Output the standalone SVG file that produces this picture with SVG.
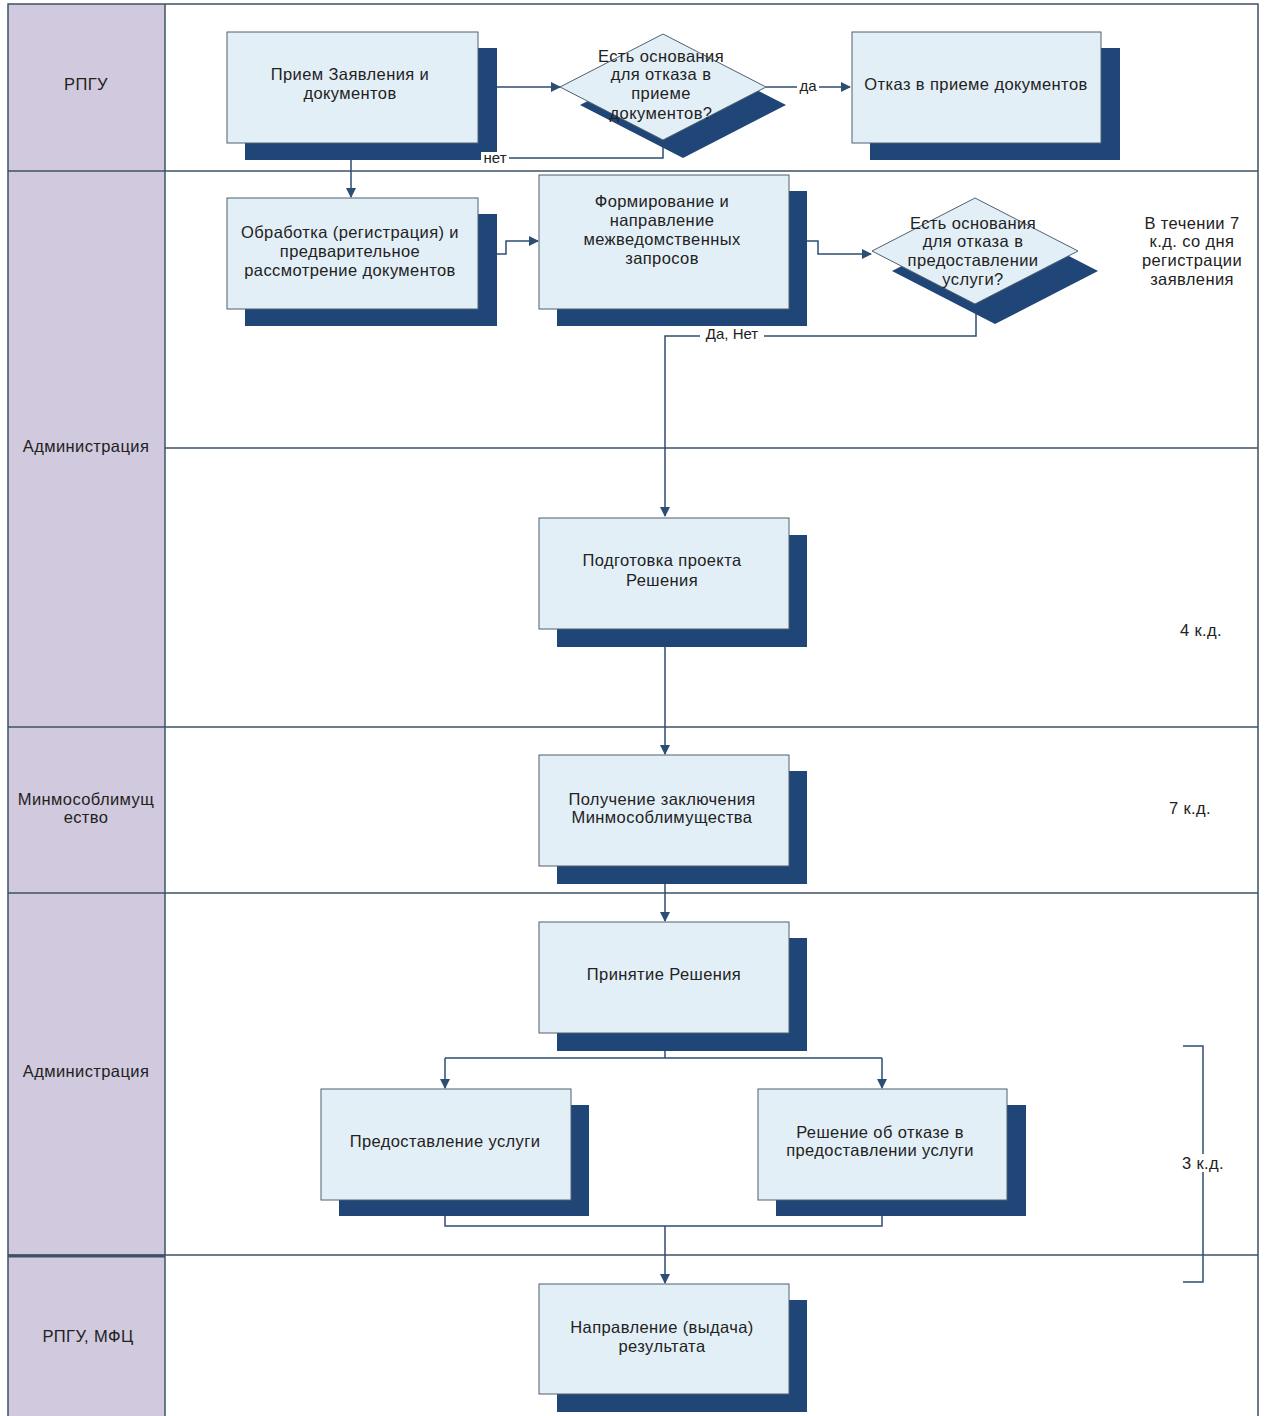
<svg xmlns="http://www.w3.org/2000/svg" width="1265" height="1416" viewBox="0 0 1265 1416">
<defs>
<style>
.lanehdr{fill:#d1c9dd;stroke:none}
.border{stroke:#3d5266;stroke-width:1.5;fill:none}
.front{fill:#e3eff7;stroke:#4f6070;stroke-width:1}
.shadow{fill:#1f4677;stroke:none}
.conn{stroke:#2d4d72;stroke-width:1.5;fill:none}
.t{font-family:"Liberation Sans",Arial,sans-serif;font-size:16.5px;letter-spacing:0.4px;fill:#222;text-anchor:middle}
.lbl{font-family:"Liberation Sans",Arial,sans-serif;font-size:15px;fill:#222;text-anchor:middle}
</style>
<marker id="arr" markerWidth="10" markerHeight="10" refX="9" refY="5" orient="auto" markerUnits="userSpaceOnUse">
<path d="M0,0 L10,5 L0,10 z" fill="#2d4d72"/>
</marker>
</defs>
<rect x="0" y="0" width="1265" height="1416" fill="#ffffff"/>
<g id="lanes">
<rect class="lanehdr" x="8" y="4" width="157" height="1412"/>
<rect class="border" x="8" y="4" width="1250" height="1420"/>
<line class="border" x1="165" y1="4" x2="165" y2="1416"/>
<line class="border" x1="8" y1="171" x2="1258" y2="171"/>
<line class="border" x1="165" y1="448" x2="1258" y2="448"/>
<line class="border" x1="8" y1="727" x2="1258" y2="727"/>
<line class="border" x1="8" y1="893" x2="1258" y2="893"/>
<line class="border" x1="8" y1="1255" x2="1258" y2="1255"/>
<line stroke="#3d5266" stroke-width="3" x1="8" y1="1256" x2="165" y2="1256"/>
<text class="t" x="86" y="90">РПГУ</text>
<text class="t" x="86" y="452">Администрация</text>
<text class="t" x="86" y="805">Минмособлимущ</text>
<text class="t" x="86" y="823">ество</text>
<text class="t" x="86" y="1077">Администрация</text>
<text class="t" x="88" y="1342">РПГУ, МФЦ</text>
</g>
<g id="connectors">
<line class="conn" x1="478" y1="87" x2="560" y2="87" marker-end="url(#arr)"/>
<line class="conn" x1="766" y1="87" x2="850" y2="87" marker-end="url(#arr)"/>
<rect x="797" y="78" width="22" height="16" fill="#fff"/>
<text class="lbl" x="808" y="91">да</text>
<polyline class="conn" points="663,140 663,158 351,158"/>
<line class="conn" x1="351" y1="143" x2="351" y2="197" marker-end="url(#arr)"/>
<polyline class="conn" points="497,254 506,254 506,241 538,241" marker-end="url(#arr)"/>
<polyline class="conn" points="807,241 818,241 818,254 871,254" marker-end="url(#arr)"/>
<polyline class="conn" points="976,304 976,336 665,336 665,516" marker-end="url(#arr)"/>
<rect x="700" y="326" width="64" height="16" fill="#fff"/>
<text class="lbl" x="732" y="339">Да, Нет</text>
<line class="conn" x1="665" y1="647" x2="665" y2="754" marker-end="url(#arr)"/>
<line class="conn" x1="665" y1="884" x2="665" y2="921" marker-end="url(#arr)"/>
<line class="conn" x1="665" y1="1051" x2="665" y2="1058"/>
<line class="conn" x1="445" y1="1058" x2="882" y2="1058"/>
<line class="conn" x1="445" y1="1058" x2="445" y2="1088" marker-end="url(#arr)"/>
<line class="conn" x1="882" y1="1058" x2="882" y2="1088" marker-end="url(#arr)"/>
<polyline class="conn" points="445,1216 445,1226 882,1226 882,1216"/>
<line class="conn" x1="665" y1="1226" x2="665" y2="1283" marker-end="url(#arr)"/>
</g>
<g id="n1">
<rect class="shadow" x="245" y="48" width="252" height="112"/>
<rect class="front" x="227" y="32" width="251" height="111"/>
<text class="t" x="350" y="80">Прием Заявления и</text>
<text class="t" x="350" y="99">документов</text>
</g>
<g id="d1">
<polygon class="shadow" points="580,105 683,52 786,105 683,158"/>
<polygon class="front" points="560,87 663,34 766,87 663,140"/>
<text class="t" x="661" y="62">Есть основания</text>
<text class="t" x="661" y="80">для отказа в</text>
<text class="t" x="661" y="99">приеме</text>
<text class="t" x="661" y="119">документов?</text>
</g>
<g id="n3">
<rect class="shadow" x="870" y="48" width="250" height="112"/>
<rect class="front" x="852" y="32" width="249" height="111"/>
<text class="t" x="976" y="90">Отказ в приеме документов</text>
</g>
<g id="net-label">
<rect x="481" y="152" width="28" height="12" fill="#fff"/>
<text class="lbl" x="495" y="163">нет</text>
</g>
<g id="n4">
<rect class="shadow" x="245" y="214" width="252" height="112"/>
<rect class="front" x="227" y="198" width="251" height="111"/>
<text class="t" x="350" y="238">Обработка (регистрация) и</text>
<text class="t" x="350" y="257">предварительное</text>
<text class="t" x="350" y="276">рассмотрение документов</text>
</g>
<g id="n5">
<rect class="shadow" x="557" y="191" width="250" height="135"/>
<rect class="front" x="539" y="175" width="250" height="134"/>
<text class="t" x="662" y="207">Формирование и</text>
<text class="t" x="662" y="226">направление</text>
<text class="t" x="662" y="245">межведомственных</text>
<text class="t" x="662" y="264">запросов</text>
</g>
<g id="d2">
<polygon class="shadow" points="892,271 995,218 1098,271 995,324"/>
<polygon class="front" points="872,251 975,198 1078,251 975,304"/>
<text class="t" x="973" y="229">Есть основания</text>
<text class="t" x="973" y="247">для отказа в</text>
<text class="t" x="973" y="266">предоставлении</text>
<text class="t" x="973" y="285">услуги?</text>
</g>
<g id="note1">
<text class="t" x="1192" y="229">В течении 7</text>
<text class="t" x="1192" y="247">к.д. со дня</text>
<text class="t" x="1192" y="266">регистрации</text>
<text class="t" x="1192" y="285">заявления</text>
</g>
<g id="n6">
<rect class="shadow" x="557" y="535" width="250" height="112"/>
<rect class="front" x="539" y="518" width="250" height="111"/>
<text class="t" x="662" y="566">Подготовка проекта</text>
<text class="t" x="662" y="586">Решения</text>
</g>
<text class="t" x="1201" y="636">4 к.д.</text>
<g id="n7">
<rect class="shadow" x="557" y="771" width="250" height="113"/>
<rect class="front" x="539" y="755" width="250" height="111"/>
<text class="t" x="662" y="805">Получение заключения</text>
<text class="t" x="662" y="823">Минмособлимущества</text>
</g>
<text class="t" x="1190" y="814">7 к.д.</text>
<g id="n8">
<rect class="shadow" x="557" y="938" width="250" height="113"/>
<rect class="front" x="539" y="922" width="250" height="111"/>
<text class="t" x="664" y="980">Принятие Решения</text>
</g>
<g id="n9">
<rect class="shadow" x="339" y="1105" width="250" height="111"/>
<rect class="front" x="321" y="1089" width="250" height="111"/>
<text class="t" x="445" y="1147">Предоставление услуги</text>
</g>
<g id="n10">
<rect class="shadow" x="776" y="1105" width="250" height="111"/>
<rect class="front" x="758" y="1089" width="249" height="111"/>
<text class="t" x="880" y="1138">Решение об отказе в</text>
<text class="t" x="880" y="1156">предоставлении услуги</text>
</g>
<g id="bracket">
<polyline class="conn" points="1183,1046 1203,1046 1203,1282 1183,1282" stroke="#3d5266"/>
<rect x="1180" y="1154" width="46" height="18" fill="#fff"/>
<text class="t" x="1203" y="1169">3 к.д.</text>
</g>
<g id="n11">
<rect class="shadow" x="557" y="1300" width="250" height="112"/>
<rect class="front" x="539" y="1284" width="250" height="110"/>
<text class="t" x="662" y="1333">Направление (выдача)</text>
<text class="t" x="662" y="1352">результата</text>
</g>
</svg>
